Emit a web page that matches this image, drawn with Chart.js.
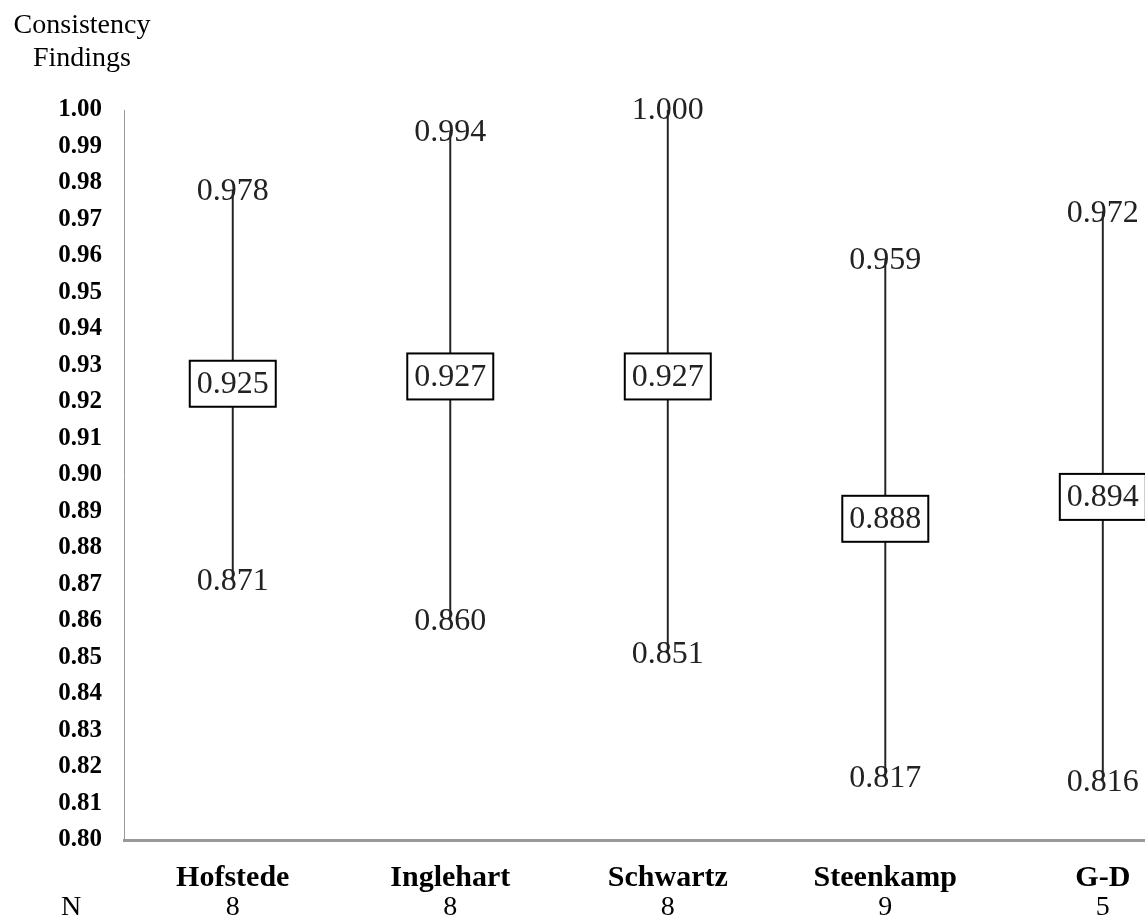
<!DOCTYPE html>
<html>
<head>
<meta charset="utf-8">
<title>Consistency Findings</title>
<script src="https://cdn.jsdelivr.net/npm/chart.js@4/dist/chart.umd.min.js"></script>
<style>
  html, body { margin: 0; padding: 0; background: #fff; overflow: hidden; }
  #wrap { position: relative; width: 1145px; height: 920px; }
</style>
</head>
<body>
<div id="wrap"><canvas id="myChart" width="1145" height="920"></canvas></div>
<script>
// data
var categories = ['Hofstede', 'Inglehart', 'Schwartz', 'Steenkamp', 'G-D'];
var highs = [0.978, 0.994, 1.000, 0.959, 0.972];
var means = [0.925, 0.927, 0.927, 0.888, 0.894];
var lows = [0.871, 0.860, 0.851, 0.817, 0.816];
var nCounts = [8, 8, 8, 9, 5];
var yTickValues = [0.80, 0.81, 0.82, 0.83, 0.84, 0.85, 0.86, 0.87, 0.88, 0.89, 0.90,
                   0.91, 0.92, 0.93, 0.94, 0.95, 0.96, 0.97, 0.98, 0.99, 1.00];
var titleLines = ['Consistency', 'Findings'];

var serif = '"Liberation Serif", "Times New Roman", serif';

var rangeData = categories.map((c, i) => ({ x: i, y: [lows[i], highs[i]] }));
var meanData = categories.map((c, i) => ({ x: i, y: means[i] }));
var highData = categories.map((c, i) => ({ x: i, y: highs[i] }));
var lowData = categories.map((c, i) => ({ x: i, y: lows[i] }));

// value labels, boxed mean, title and the N row
var labelPlugin = {
    id: 'valueLabels',
    afterDatasetsDraw(chart) {
        var ctx = chart.ctx;
        ctx.save();
        ctx.font = '32px ' + serif;
        ctx.textAlign = 'center';
        ctx.textBaseline = 'middle';
        [1, 2, 3].forEach(function(dsIndex) {
            var ds = chart.data.datasets[dsIndex];
            var meta = chart.getDatasetMeta(dsIndex);
            meta.data.forEach(function(pt, i) {
                var txt = ds.data[i].y.toFixed(3);
                if (ds.boxed) {
                    var w = ctx.measureText(txt).width + 14;
                    var h = 46;
                    ctx.fillStyle = '#fff';
                    ctx.fillRect(pt.x - w / 2, pt.y - h / 2, w, h);
                    ctx.lineWidth = 2;
                    ctx.strokeStyle = '#000';
                    ctx.strokeRect(pt.x - w / 2, pt.y - h / 2, w, h);
                }
                ctx.fillStyle = '#222';
                ctx.fillText(txt, pt.x, pt.y + 1);
            });
        });
        ctx.restore();
    },
    afterDraw(chart) {
        var ctx = chart.ctx;
        var x = chart.scales.x;
        ctx.save();
        ctx.fillStyle = '#000';
        ctx.textAlign = 'center';
        ctx.textBaseline = 'middle';
        ctx.font = '28px ' + serif;
        ctx.fillText(titleLines[0], 82, 26);
        ctx.fillText(titleLines[1], 82, 59);
        ctx.fillText('N', 71, 908);
        nCounts.forEach(function(n, i) {
            ctx.fillText(String(n), x.getPixelForValue(i), 908);
        });
        ctx.restore();
    }
};

var ctx = document.getElementById('myChart').getContext('2d');
var myChart = new Chart(ctx, {
    type: 'scatter',
    data: {
        datasets: [{
            type: 'bar',
            label: 'Range',
            data: rangeData,
            backgroundColor: '#222',
            barThickness: 1.3
        }, {
            label: 'Mean',
            data: meanData,
            boxed: true,
            pointRadius: 0,
            pointHoverRadius: 0
        }, {
            label: 'High',
            data: highData,
            pointRadius: 0,
            pointHoverRadius: 0
        }, {
            label: 'Low',
            data: lowData,
            pointRadius: 0,
            pointHoverRadius: 0
        }]
    },
    options: {
        responsive: false,
        animation: false,
        devicePixelRatio: 1,
        layout: { padding: { top: 110, left: 0, right: 0, bottom: 0 } },
        plugins: {
            legend: { display: false },
            tooltip: { enabled: false }
        },
        scales: {
            x: {
                type: 'linear',
                position: 'bottom',
                offset: false,
                min: -0.5,
                max: 4.194,
                grid: { display: false },
                border: { color: '#999', width: 3 },
                afterBuildTicks: function(scale) {
                    scale.ticks = categories.map((c, i) => ({ value: i }));
                },
                afterFit: function(scale) { scale.height = 80; },
                ticks: {
                    color: '#000',
                    padding: 12,
                    maxRotation: 0,
                    autoSkip: false,
                    font: { family: serif, size: 30, weight: 'bold' },
                    callback: function(v) { return categories[v]; }
                }
            },
            y: {
                min: 0.80,
                max: 1.00,
                grid: { display: false },
                border: { color: '#999', width: 1 },
                afterBuildTicks: function(scale) {
                    scale.ticks = yTickValues.map(v => ({ value: v }));
                },
                afterFit: function(scale) { scale.width = 124; },
                ticks: {
                    color: '#000',
                    padding: 14,
                    autoSkip: false,
                    font: { family: serif, size: 25, weight: 'bold' },
                    callback: function(v) { return Number(v).toFixed(2); }
                }
            }
        }
    },
    plugins: [labelPlugin]
});
</script>
</body>
</html>
